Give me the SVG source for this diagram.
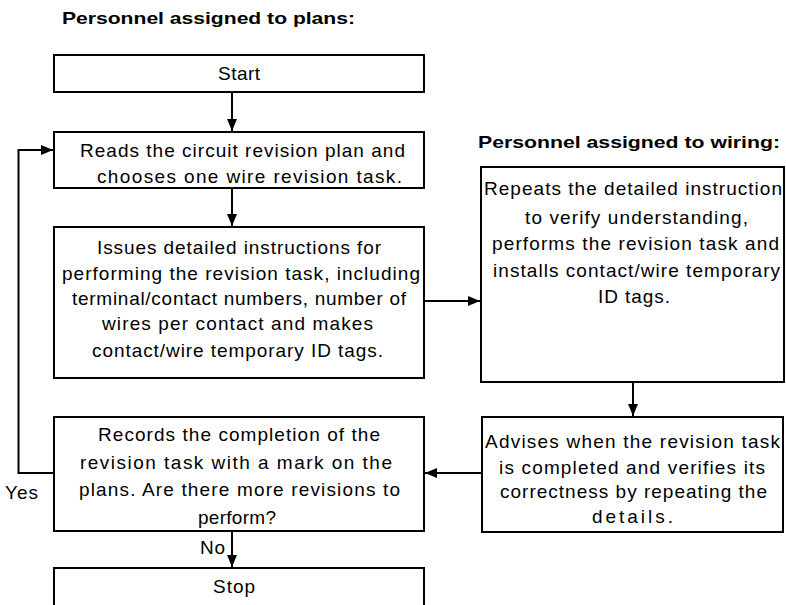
<svg xmlns="http://www.w3.org/2000/svg" width="786" height="605" viewBox="0 0 786 605">
<style>
.box{fill:#fff;stroke:#000;stroke-width:2}
.t{font-family:"Liberation Sans",Arial,sans-serif;font-size:19px;fill:#000;text-anchor:middle}
.l{text-anchor:start}
.h{font-family:"Liberation Sans",Arial,sans-serif;font-size:16.5px;font-weight:bold;fill:#000}
.c{fill:none;stroke:#000;stroke-width:2}
</style>
<defs>
<marker id="ah" viewBox="0 0 12 10" refX="12" refY="5" markerWidth="12" markerHeight="10" markerUnits="userSpaceOnUse" orient="auto">
<path d="M0,0 L12,5 L0,10 Z" fill="#000"/>
</marker>
</defs>
<text class="h" x="62" y="24" textLength="293" lengthAdjust="spacingAndGlyphs">Personnel assigned to plans:</text>
<text class="h" x="478" y="148" textLength="302" lengthAdjust="spacingAndGlyphs">Personnel assigned to wiring:</text>
<g id="start"><rect class="box" x="54" y="55" width="370" height="37"/><text class="t" x="239" y="80" textLength="42">Start</text></g>
<g id="reads"><rect class="box" x="54" y="132" width="370" height="56"/>
<text class="t" x="242.5" y="157" textLength="325">Reads the circuit revision plan and</text>
<text class="t" x="249.5" y="183" textLength="305">chooses one wire revision task.</text></g>
<g id="issues"><rect class="box" x="54" y="227" width="370" height="151"/>
<text class="t" x="239" y="254" textLength="284">Issues detailed instructions for</text>
<text class="t" x="241" y="280" textLength="358">performing the revision task, including</text>
<text class="t" x="239" y="305" textLength="334">terminal/contact numbers, number of</text>
<text class="t" x="237.5" y="330" textLength="271">wires per contact and makes</text>
<text class="t" x="237.5" y="357" textLength="291">contact/wire temporary ID tags.</text></g>
<g id="records"><rect class="box" x="54" y="417" width="370" height="114"/>
<text class="t" x="239" y="441" textLength="282">Records the completion of the</text>
<text class="t" x="236" y="469" textLength="312">revision  task with a mark on the</text>
<text class="t" x="239.5" y="496" textLength="321">plans. Are there more revisions to</text>
<text class="t" x="237" y="524" textLength="78">perform?</text></g>
<g id="stop"><rect class="box" x="54" y="568" width="370" height="45"/><text class="t" x="234" y="593" textLength="42">Stop</text></g>
<g id="repeats"><rect class="box" x="481" y="167" width="303" height="215"/>
<text class="t" x="633" y="195" textLength="298">Repeats the detailed instruction</text>
<text class="t" x="636.5" y="224" textLength="223">to verify understanding,</text>
<text class="t" x="635.5" y="250" textLength="287">performs the revision task and</text>
<text class="t" x="636.5" y="277" textLength="287">installs contact/wire temporary</text>
<text class="t" x="634" y="303" textLength="72">ID tags.</text></g>
<g id="advises"><rect class="box" x="482" y="417" width="301" height="115"/>
<text class="t" x="632.5" y="448" textLength="295">Advises when the revision task</text>
<text class="t" x="632" y="474" textLength="266">is  completed and verifies its</text>
<text class="t" x="633.5" y="498" textLength="267">correctness by repeating the</text>
<text class="t" x="632.5" y="523" textLength="81">details.</text></g>
<g id="labels">
<text class="t l" x="5" y="499" textLength="33">Yes</text>
<text class="t l" x="200" y="554" textLength="25">No</text>
</g>
<g id="connectors">
<line class="c" x1="232" y1="92" x2="232" y2="131" marker-end="url(#ah)"/>
<line class="c" x1="232" y1="188" x2="232" y2="226" marker-end="url(#ah)"/>
<line class="c" x1="424" y1="301" x2="480" y2="301" marker-end="url(#ah)"/>
<line class="c" x1="633" y1="382" x2="633" y2="416" marker-end="url(#ah)"/>
<line class="c" x1="482" y1="473" x2="425" y2="473" marker-end="url(#ah)"/>
<polyline class="c" points="54,473 18.5,473 18.5,150 53,150" marker-end="url(#ah)"/>
<line class="c" x1="232" y1="531" x2="232" y2="567" marker-end="url(#ah)"/>
</g>
</svg>
